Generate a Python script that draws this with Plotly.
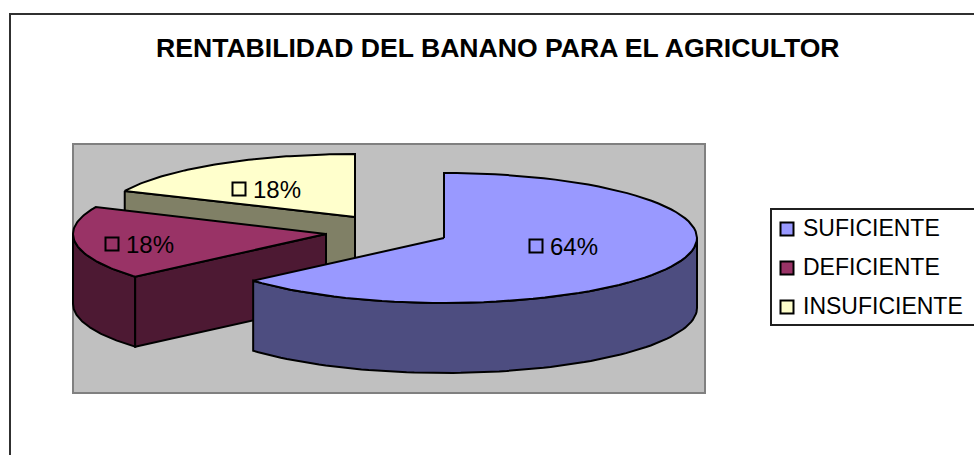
"""
Exploded 3D style pie chart drawn with Plotly scatter traces.
"""
import numpy as np
import plotly.graph_objects as go

# Data
categories = ['SUFICIENTE', 'DEFICIENTE', 'INSUFICIENTE']
values = [63.6, 18.2, 18.2]
labels = ['64%', '18%', '18%']
title = 'RENTABILIDAD DEL BANANO PARA EL AGRICULTOR'

# Slice styles
top_colors = ['#9999FF', '#993366', '#FFFFCC']
side_colors = ['#4D4D80', '#4D1933', '#808066']

# Pie geometry, in pixels of the page
centers = [(444, 238), (326, 234), (355, 217)]
radii_y = [65, 65, 63]
RX = 253
DEPTH = 70
label_pos = [(536, 246), (112, 244), (239, 189)]
FONT = 'Liberation Sans'
WIDTH = 974
HEIGHT = 455
EDGE = 2

fig = go.Figure()


def arc(i, start, end):
    # angles in degrees, clockwise from 12 o'clock
    t = np.radians(np.linspace(start, end, 80))
    return centers[i][0] + RX * np.sin(t), centers[i][1] - radii_y[i] * np.cos(t)


def add_poly(xs, ys, color):
    fig.add_trace(go.Scatter(
        x=list(xs) + [xs[0]],
        y=list(ys) + [ys[0]],
        mode='lines',
        fill='toself',
        fillcolor=color,
        line=dict(color='black', width=EDGE),
        hoverinfo='skip',
        showlegend=False
    ))


# Slice angles
edges = np.cumsum([0] + values) / sum(values) * 360
spans = list(zip(edges[:-1], edges[1:]))

# Plot area background
fig.add_shape(type='rect', x0=73, y0=144, x1=705, y1=393,
              fillcolor='#C0C0C0', line=dict(color='#808080', width=2), layer='below')

# Draw back to front: yellow, then maroon, then blue
# Yellow slice: only the cut face shows
a, b = spans[2]
cx, cy = centers[2]
ex, ey = arc(2, a, a)
add_poly([ex[0], cx, cx, ex[0]], [ey[0], cy, cy + DEPTH, ey[0] + DEPTH], side_colors[2])
ax, ay = arc(2, a, b)
add_poly(np.r_[cx, ax], np.r_[cy, ay], top_colors[2])

# Maroon slice: outer wall, front cut face, top
a, b = spans[1]
cx, cy = centers[1]
wx, wy = arc(1, a, 270)
add_poly(np.r_[wx, wx[::-1]], np.r_[wy, wy[::-1] + DEPTH], side_colors[1])
add_poly([wx[0], cx, cx, wx[0]], [wy[0], cy, cy + DEPTH, wy[0] + DEPTH], side_colors[1])
ax, ay = arc(1, a, b)
add_poly(np.r_[cx, ax], np.r_[cy, ay], top_colors[1])

# Blue slice: outer wall, top
a, b = spans[0]
cx, cy = centers[0]
wx, wy = arc(0, 90, b)
add_poly(np.r_[wx, wx[::-1]], np.r_[wy, wy[::-1] + DEPTH], side_colors[0])
ax, ay = arc(0, a, b)
add_poly(np.r_[cx, ax], np.r_[cy, ay], top_colors[0])

# Data labels with their little colour keys
for (lx, ly), label, color in zip(label_pos, labels, top_colors):
    fig.add_trace(go.Scatter(
        x=[lx],
        y=[ly],
        mode='markers',
        marker=dict(symbol='square', size=13, color=color, line=dict(color='black', width=EDGE)),
        hoverinfo='skip',
        showlegend=False
    ))
    fig.add_annotation(x=lx + 12, y=ly, text=label, showarrow=False, xanchor='left',
                       font=dict(family=FONT, size=24, color='black'))

# Legend box, it runs off the right edge of the page
fig.add_shape(type='rect', x0=771, y0=209, x1=WIDTH + 10, y1=325,
              fillcolor='white', line=dict(color='#202020', width=2), layer='below')
legend_y = [229, 268, 307]
fig.add_trace(go.Scatter(
    x=[787] * len(categories),
    y=legend_y,
    mode='markers',
    marker=dict(symbol='square', size=13, color=top_colors, line=dict(color='black', width=EDGE)),
    hoverinfo='skip',
    showlegend=False
))
for name, ly in zip(categories, legend_y):
    fig.add_annotation(x=801, y=ly - 1, text=name, showarrow=False, xanchor='left',
                       font=dict(family=FONT, size=23, color='black'))

# Chart frame, cut by the page on the right and at the bottom
fig.add_shape(type='rect', x0=10, y0=14, x1=WIDTH + 10, y1=HEIGHT + 10,
              fillcolor='rgba(0,0,0,0)', line=dict(color='#303030', width=2), layer='below')

fig.add_annotation(x=498, y=48, text='<b>' + title + '</b>', showarrow=False,
                   font=dict(family=FONT, size=26.6, color='black'))

fig.update_layout(
    width=WIDTH,
    height=HEIGHT,
    margin=dict(l=0, r=0, t=0, b=0),
    paper_bgcolor='white',
    plot_bgcolor='white',
    showlegend=False,
    xaxis=dict(range=[0, WIDTH], visible=False, fixedrange=True),
    yaxis=dict(range=[HEIGHT, 0], visible=False, fixedrange=True)
)

fig.write_html("out.html", config=dict(displayModeBar=False),
               post_script="document.body.style.margin='0';document.documentElement.style.overflow='hidden';")
